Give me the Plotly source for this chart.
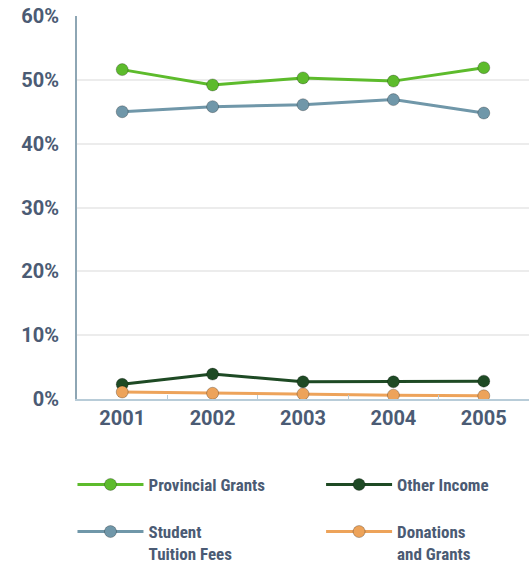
import plotly.graph_objects as go

years = ["2001", "2002", "2003", "2004", "2005"]
provincial = [51.6, 49.2, 50.3, 49.8, 51.9]
student = [45.0, 45.8, 46.1, 46.9, 44.8]
other = [2.3, 3.9, 2.7, 2.7, 2.8]
donations = [1.1, 0.9, 0.8, 0.6, 0.5]

series = [
    ("Provincial Grants", provincial, "#5dbb2c", "legend"),
    ("Student<br>Tuition Fees", student, "#7097a9", "legend"),
    ("Other Income", other, "#1e4a24", "legend2"),
    ("Donations<br>and Grants", donations, "#eda35a", "legend2"),
]

fig = go.Figure()
for name, vals, col, lg in series:
    fig.add_trace(go.Scatter(
        x=years, y=vals, name=name, mode="lines+markers", legend=lg, legendgroup=name,
        line=dict(color=col, width=3),
        marker=dict(color=col, size=12, line=dict(color="rgba(0,0,0,0.25)", width=1)),
    ))

txt = "#4b5b74"
legfont = dict(family="Liberation Sans Narrow, Roboto Condensed, Roboto, sans-serif",
               size=17, color=txt, weight="bold")
common = dict(orientation="v", yref="container", y=0.178, yanchor="top", xanchor="left",
              itemwidth=66, valign="top", traceorder="grouped", tracegroupgap=22,
              font=legfont, bgcolor="rgba(0,0,0,0)")
fig.update_layout(
    width=529, height=568,
    margin=dict(l=77, r=0, t=16, b=169),
    paper_bgcolor="white", plot_bgcolor="white",
    font=dict(family="Roboto, Liberation Sans, sans-serif", color=txt),
    showlegend=True,
    legend=dict(x=-0.01, **common),
    legend2=dict(x=0.54, **common),
    xaxis=dict(
        range=[-0.5, 4.5], showgrid=False, showline=True, linecolor="#b8ccd8", linewidth=2,
        tickson="boundaries", ticks="inside", ticklen=4, tickcolor="#b8ccd8",
        tickfont=dict(size=20, color=txt, weight="bold"),
        zeroline=False,
    ),
    yaxis=dict(
        range=[0, 60], dtick=10, ticksuffix="%", showgrid=True, gridcolor="#ececec", gridwidth=1.5,
        showline=True, linecolor="#8ea6b4", linewidth=2, zeroline=False,
        ticklabelstandoff=12,
        tickfont=dict(size=20, color=txt, weight="bold"),
    ),
)

fig.write_html("out.html")
